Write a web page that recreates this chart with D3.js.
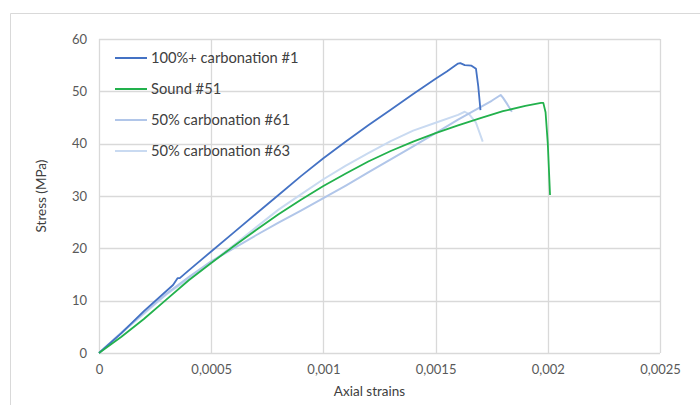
<!DOCTYPE html>
<html><head><meta charset="utf-8">
<script src="https://cdn.jsdelivr.net/npm/d3@7"></script>
<style>
body{margin:0;background:#fff;}
svg{display:block;font-family:Lato,"Open Sans",sans-serif;}
</style></head>
<body><svg id="chart" width="700" height="405"></svg>
<script>
// ---- data ----
const seriesNames = ["100%+ carbonation #1", "Sound #51", "50% carbonation #61", "50% carbonation #63"];
const seriesColors = ["#4472c4", "#22b14c", "#b1c6e9", "#c9daf1"];

const strain1 = [0,0.0001,0.0002,0.00033,0.00035,0.00036,0.0004,0.0005,0.0006,0.0007,0.0008,0.0009,0.001,0.0011,0.0012,0.0013,0.0014,0.0015,0.00155,0.0016,0.00161,0.00163,0.00166,0.00168,0.00169,0.0017];
const stress1 = [0,3.8,8.0,13.0,14.3,14.3,15.8,19.4,23.0,26.6,30.2,33.8,37.2,40.4,43.5,46.5,49.5,52.4,53.8,55.3,55.4,55.0,54.9,54.3,51.0,46.4];

const strain2 = [0,0.0001,0.0002,0.0003,0.0004,0.0005,0.0006,0.0007,0.0008,0.0009,0.001,0.0011,0.0012,0.0013,0.0014,0.0015,0.0016,0.0017,0.0018,0.0019,0.00197,0.00198,0.00199,0.002,0.00201];
const stress2 = [0,3.1,6.5,10.2,13.9,17.2,20.4,23.5,26.5,29.3,31.9,34.3,36.6,38.6,40.4,42.0,43.5,44.9,46.2,47.2,47.8,47.8,46.0,40.0,30.2];

const strain3 = [0,0.0001,0.0002,0.0003,0.0004,0.0005,0.0006,0.0007,0.0008,0.0009,0.001,0.0011,0.0012,0.0013,0.0014,0.0015,0.0016,0.0017,0.00175,0.00179,0.0018,0.00182,0.00184];
const stress3 = [0,3.9,7.7,11.3,14.5,17.5,20.0,22.5,24.9,27.2,29.6,32.0,34.5,37.0,39.5,42.0,44.6,47.0,48.2,49.3,48.8,47.5,46.1];

const strain4 = [0,0.0001,0.0002,0.0003,0.0004,0.0005,0.0006,0.0007,0.0008,0.0009,0.001,0.0011,0.0012,0.0013,0.0014,0.0015,0.0016,0.00163,0.00165,0.00168,0.00171];
const stress4 = [0,3.8,7.5,11.2,14.2,17.3,20.6,24.0,27.4,30.3,33.2,35.8,38.2,40.5,42.5,44.0,45.5,46.1,45.6,44.0,40.4];

const xTicks = [0,0.0005,0.001,0.0015,0.002,0.0025];
const xTickLabels = ["0","0,0005","0,001","0,0015","0,002","0,0025"];
const yTicks = [0,10,20,30,40,50,60];
const xTitle = "Axial strains";
const yTitle = "Stress (MPa)";

// ---- drawing ----
const svg = d3.select("#chart");
const L = 99, R = 660, T = 39, B = 353;
const x = d3.scaleLinear().domain([0,0.0025]).range([L,R]);
const y = d3.scaleLinear().domain([0,60]).range([B,T]);

// chart border
svg.append("path").attr("d","M10.5,405 L10.5,13.5 L700,13.5").attr("fill","none").attr("stroke","#d9d9d9");

// gridlines
const g = svg.append("g");
g.selectAll(".hg").data(yTicks).join("line")
  .attr("x1",L).attr("x2",R).attr("y1",d=>Math.round(y(d))+0.5).attr("y2",d=>Math.round(y(d))+0.5)
  .attr("stroke","#d9d9d9").attr("stroke-width",1.3);
g.selectAll(".vg").data(xTicks).join("line")
  .attr("y1",T).attr("y2",B).attr("x1",d=>Math.round(x(d))+0.5).attr("x2",d=>Math.round(x(d))+0.5)
  .attr("stroke","#d9d9d9").attr("stroke-width",1.3);

// axes labels via d3 axes
const xAxis = d3.axisBottom(x).tickValues(xTicks).tickFormat((d,i)=>xTickLabels[i]).tickSize(0).tickPadding(12);
const xa = svg.append("g").attr("transform",`translate(0,${B})`).call(xAxis);
xa.select(".domain").remove();
xa.selectAll("text").attr("fill","#595959").style("font-size","13px").style("font-family","Lato");

const yAxis = d3.axisLeft(y).tickValues(yTicks).tickSize(0).tickPadding(12);
const ya = svg.append("g").attr("transform",`translate(${L},0)`).call(yAxis);
ya.select(".domain").remove();
ya.selectAll("text").attr("fill","#595959").style("font-size","13px").style("font-family","Lato");

svg.append("text").attr("x",(L+R)/2 - 10).attr("y",396).attr("text-anchor","middle")
  .attr("fill","#404040").style("font-size","13.5px").text(xTitle);
svg.append("text").attr("transform",`translate(46,${(T+B)/2}) rotate(-90)`).attr("text-anchor","middle")
  .attr("fill","#404040").style("font-size","13.5px").text(yTitle);

// series
const series = [
  {xs:strain1, ys:stress1, w:1.8},
  {xs:strain2, ys:stress2, w:1.8},
  {xs:strain3, ys:stress3, w:2},
  {xs:strain4, ys:stress4, w:2}
];
const line = d3.line().x(d=>x(d[0])).y(d=>y(d[1]));
const order = [3,2,0,1];
order.forEach(i=>{
  const s = series[i];
  const pts = s.xs.map((v,k)=>[v,s.ys[k]]);
  svg.append("path").datum(pts).attr("d",line).attr("fill","none")
    .attr("stroke",seriesColors[i]).attr("stroke-width",s.w).attr("stroke-linejoin","round");
});

// legend
const lg = svg.append("g");
seriesNames.forEach((n,i)=>{
  const yy = 58 + i*31;
  lg.append("line").attr("x1",115).attr("x2",147).attr("y1",yy).attr("y2",yy)
    .attr("stroke",seriesColors[i]).attr("stroke-width",2);
  lg.append("text").attr("x",151).attr("y",yy+5).attr("fill","#404040")
    .style("font-size","14.7px").text(n);
});
</script>
</body></html>
